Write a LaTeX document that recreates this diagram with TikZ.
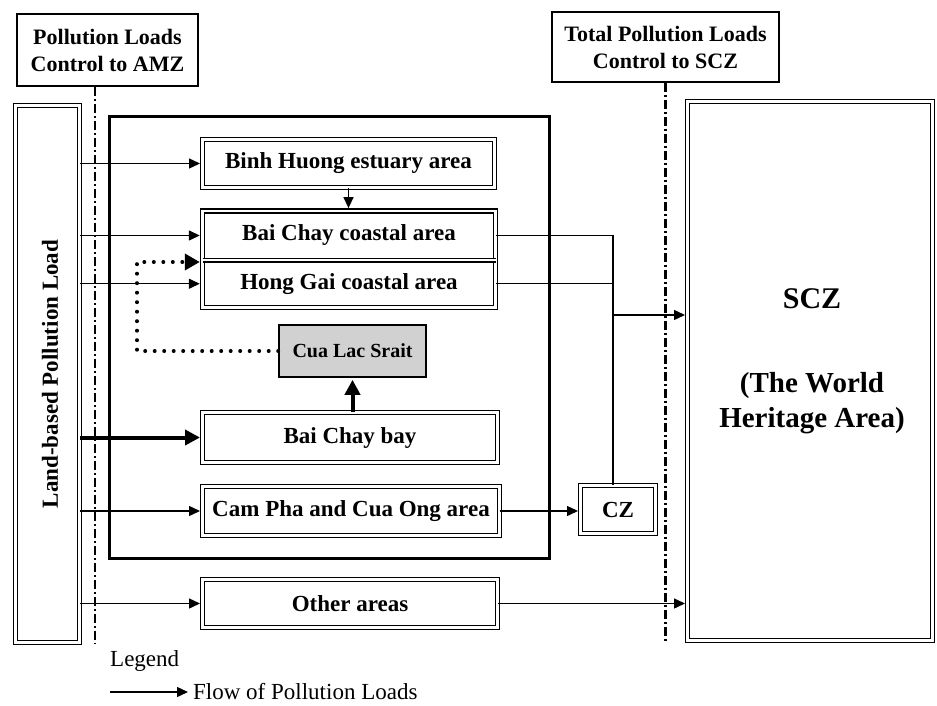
\documentclass[tikz,border=0pt]{standalone}
\usepackage{fontspec}
\setmainfont{Liberation Serif}
\usetikzlibrary{arrows.meta,fit,calc}
\begin{document}
\begin{tikzpicture}[x=1pt,y=-1pt,
  lbl/.style={font=\fontsize{23}{27}\selectfont\bfseries},
  dbox/.style={draw, line width=1.4pt, double, double distance=2.6pt, inner sep=0pt, lbl},
  tbox/.style={draw, line width=1.7pt, inner sep=0pt, align=center, font=\fontsize{22}{27}\selectfont\bfseries},
  conn/.style={line width=1.4pt},
  arr/.style={conn, -{Triangle[length=11pt,width=10pt]}, shorten >=2pt},
  thickarr/.style={line width=4pt, -{Triangle[length=15pt,width=15pt]}, shorten >=2pt},
  dotarr/.style={line width=4pt, line cap=round, dash pattern=on 0pt off 9.5pt, -{Triangle[length=15pt,width=16pt]}, shorten >=2pt},
  ctrl/.style={line width=2.8pt, dash pattern=on 9pt off 3pt on 2pt off 3pt},
]
\useasboundingbox (0,0) rectangle (937,706);

% title boxes
\node[tbox, minimum width=181pt, minimum height=72pt] (amzt) at (107.5,50) {Pollution Loads\\Control to AMZ};
\node[tbox, minimum width=227pt, minimum height=70pt] (sczt) at (665.5,47) {Total Pollution Loads\\Control to SCZ};

% control lines
\coordinate (c1bot) at (95,643);
\draw[ctrl] (amzt.south -| c1bot) -- (c1bot);
\draw[ctrl] (sczt.south) -- (sczt.south |- c1bot);

% land-based load
\node[dbox, minimum width=63.6pt, minimum height=536.6pt] (land) at (47.5,374) {};
\node[lbl, rotate=90] (landtxt) at (50,374) {Land-based Pollution Load};

% AMZ big box
\node[draw, line width=3pt, minimum width=440pt, minimum height=442pt] (amz) at (329.5,337.5) {};

% area boxes
\node[dbox, minimum width=291.6pt, minimum height=47.6pt] (binh) at (348.5,163.5) {Binh Huong estuary area};
\node[lbl, minimum width=292.6pt, minimum height=49pt, inner sep=0pt] (bcc) at (349,235.5) {Bai Chay coastal area};
\node[lbl, minimum width=292.6pt, minimum height=47.5pt, inner sep=0pt] (hg) at (349,283.75) {Hong Gai coastal area};
\node[dbox, fit=(bcc)(hg)] (coast) {};
\draw[line width=1.2pt, double, double distance=2.2pt] (bcc.south west) -- (bcc.south east);
\node[draw, line width=1.6pt, fill=black!18, minimum width=147pt, minimum height=52pt, inner sep=0pt,
      font=\fontsize{20}{24}\selectfont\bfseries] (cua) at (352.5,351) {Cua Lac Srait};
\node[dbox, minimum width=294.6pt, minimum height=49.6pt] (bcb) at (350,437.5) {Bai Chay bay};
\node[dbox, minimum width=296.6pt, minimum height=48.6pt] (cam) at (351,511) {Cam Pha and Cua Ong area};
\node[dbox, minimum width=74.6pt, minimum height=47.6pt] (cz) at (618,509.5) {CZ};
\node[dbox, minimum width=294.6pt, minimum height=47.6pt] (other) at (350,603.5) {Other areas};

% SCZ
\node[dbox, minimum width=244.6pt, minimum height=538.6pt] (scz) at (810,371) {};
\node[font=\fontsize{30}{30}\selectfont\bfseries, anchor=base, inner sep=0pt] (scztxt) at (812,308) {SCZ};
\node[font=\fontsize{29}{35}\selectfont\bfseries, align=center, inner sep=0pt] (sczsub) at (812,403) {(The World\\Heritage Area)};

% connectors
\draw[arr] (land.east |- binh.west) -- (binh.west);
\draw[arr] (binh.south) -- (binh.south |- coast.north);
\draw[arr] (land.east |- bcc.west) -- (coast.west |- bcc.west);
\draw[arr] (land.east |- hg.west) -- (coast.west |- hg.west);
\coordinate (dc) at (137,262);
\draw[dotarr] (cua.west) -| (dc) -- (coast.west |- dc);
\draw[thickarr] (land.east |- bcb.west) -- (bcb.west);
\draw[thickarr] (cua.south |- bcb.north) -- (cua.south);
\draw[arr] (land.east |- cam.west) -- (cam.west);
\draw[arr] (cam.east) -- (cam.east -| cz.west);
\draw[arr] (land.east |- other.west) -- (other.west);
\draw[arr] (other.east) -- (other.east -| scz.west);
\coordinate (jn) at (613,315);
\draw[conn] (coast.east |- bcc.east) -| (jn |- cz.north);
\draw[conn] (coast.east |- hg.east) -- (jn |- hg.east);
\draw[arr] (jn) -- (jn -| scz.west);

% legend
\node[font=\fontsize{23}{27}\selectfont, anchor=base west, inner sep=0pt] (leg) at (110,666) {Legend};
\coordinate (la) at (110,692);
\node[font=\fontsize{23}{27}\selectfont, anchor=base west, inner sep=0pt] (flow) at (193,699) {Flow of Pollution Loads};
\draw[arr, shorten >=5pt] (la) -- (la -| flow.west);
\end{tikzpicture}
\end{document}
